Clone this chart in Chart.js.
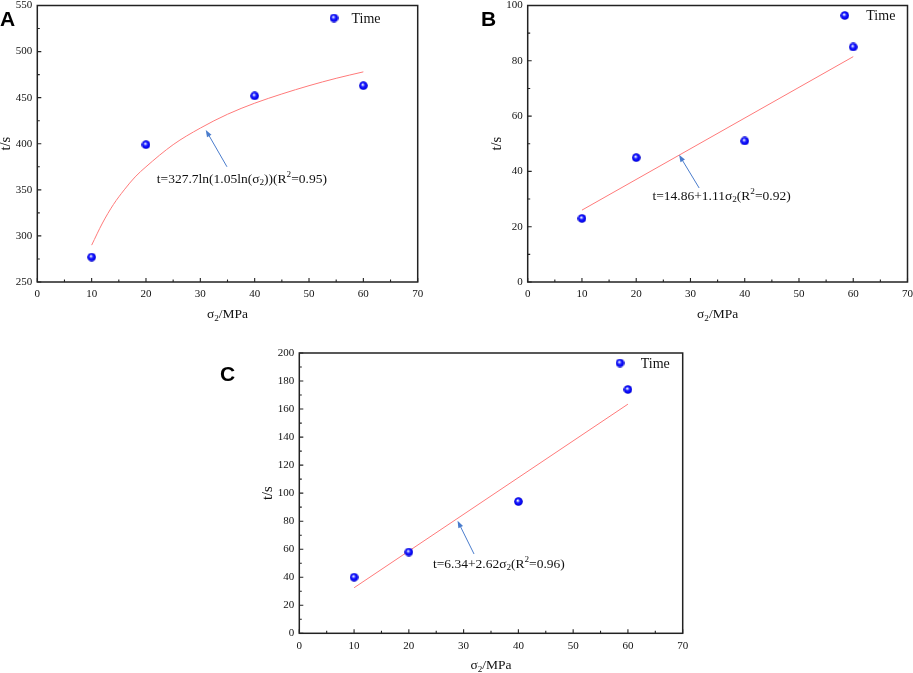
<!DOCTYPE html>
<html>
<head>
<meta charset="utf-8">
<script src="https://cdn.jsdelivr.net/npm/chart.js@4.4.1/dist/chart.umd.min.js"></script>
<style>
html,body{margin:0;padding:0;background:#fff;width:913px;height:673px;overflow:hidden}
#wrap{position:relative;width:913px;height:673px}
#wrap canvas{position:absolute;left:0;top:0}
</style>
</head>
<body>
<div id="wrap">
<canvas id="cA" width="913" height="673"></canvas>
<canvas id="cB" width="913" height="673"></canvas>
<canvas id="cC" width="913" height="673"></canvas>
</div>
<script>
// ---------- DATA ----------
const sigmaLevels = [10, 20, 40, 60];          // σ2 / MPa
const timeA = [277, 399, 452, 463];            // t/s, panel A
const timeB = [23, 45, 51, 85];                // t/s, panel B
const timeC = [40, 58, 94, 174];               // t/s, panel C

// fitted curves
const fitXA = [10, 12, 14, 16, 18, 20, 25, 30, 35, 40, 45, 50, 55, 60];
const fitYA = [290, 314, 334, 350, 364, 375, 399, 417, 432, 444, 454, 463, 471, 478];
const fitXB = [10, 60];
const fitYB = [26, 81.5];
const fitXC = [10, 60];
const fitYC = [32.5, 163.5];

// tick labels
const xTickVals = [0, 10, 20, 30, 40, 50, 60, 70];
const yTickValsA = [250, 300, 350, 400, 450, 500, 550];
const yTickValsB = [0, 20, 40, 60, 80, 100];
const yTickValsC = [0, 20, 40, 60, 80, 100, 120, 140, 160, 180, 200];

// texts
const seriesName = 'Time';
const xTitleSegs = [{t: 'σ'}, {t: '2', sub: true}, {t: '/MPa'}];
const yTitle = 't/s';
const eqA = [{t: 't=327.7ln(1.05ln(σ'}, {t: '2', sub: true}, {t: '))(R'}, {t: '2', sup: true}, {t: '=0.95)'}];
const eqB = [{t: 't=14.86+1.11σ'}, {t: '2', sub: true}, {t: '(R'}, {t: '2', sup: true}, {t: '=0.92)'}];
const eqC = [{t: 't=6.34+2.62σ'}, {t: '2', sub: true}, {t: '(R'}, {t: '2', sup: true}, {t: '=0.96)'}];

// ---------- STYLE / HELPERS ----------
const SERIF = '"Liberation Serif", "Times New Roman", Times, serif';
const SANS = '"Liberation Sans", Arial, Helvetica, sans-serif';
const FRAME = '#222222';
const SPHERE = 9;

function makeSphere() {
  const dpr = window.devicePixelRatio || 1;
  const c = document.createElement('canvas');
  c.width = SPHERE * dpr; c.height = SPHERE * dpr;
  const g = c.getContext('2d');
  g.scale(dpr, dpr);
  const grad = g.createRadialGradient(3.7, 3.4, 0.2, 4.5, 4.5, 4.4);
  grad.addColorStop(0, '#ffffff');
  grad.addColorStop(0.18, '#a0acff');
  grad.addColorStop(0.42, '#1c1cff');
  grad.addColorStop(0.85, '#0000ee');
  grad.addColorStop(1, '#0000b0');
  g.fillStyle = grad;
  g.beginPath(); g.arc(4.5, 4.5, 4.3, 0, Math.PI * 2); g.fill();
  if (dpr === 1) return c;
  const d = document.createElement('canvas');
  d.width = SPHERE; d.height = SPHERE;
  d.getContext('2d').drawImage(c, 0, 0, SPHERE, SPHERE);
  return d;
}
const sphereImg = makeSphere();

function drawRich(ctx, segs, x, y, size) {
  let cx = x;
  ctx.textBaseline = 'middle';
  ctx.textAlign = 'left';
  for (const s of segs) {
    const fs = (s.sub || s.sup) ? size * 0.68 : size;
    ctx.font = fs + 'px ' + SERIF;
    const dy = s.sub ? size * 0.28 : (s.sup ? -size * 0.36 : 0);
    ctx.fillText(s.t, cx, y + dy);
    cx += ctx.measureText(s.t).width;
  }
  return cx - x;
}
function richWidth(ctx, segs, size) {
  let w = 0;
  for (const s of segs) {
    const fs = (s.sub || s.sup) ? size * 0.68 : size;
    ctx.font = fs + 'px ' + SERIF;
    w += ctx.measureText(s.t).width;
  }
  return w;
}

function makeDecor(cfg) {
  return {
    id: 'decor' + cfg.letter,
    afterDraw(chart) {
      const ctx = chart.ctx;
      const a = chart.chartArea;
      const xs = chart.scales.x, ys = chart.scales.y;
      ctx.save();
      // frame
      ctx.strokeStyle = FRAME;
      ctx.lineWidth = 1.5;
      ctx.strokeRect(a.left, a.top, a.right - a.left, a.bottom - a.top);
      // inward ticks
      ctx.lineWidth = 1.1;
      ctx.beginPath();
      for (let v = xs.min; v <= xs.max + 1e-9; v += cfg.xMinor) {
        const px = xs.getPixelForValue(v);
        const major = Math.abs(v / cfg.xStep - Math.round(v / cfg.xStep)) < 1e-6;
        const len = major ? 4 : 2.5;
        ctx.moveTo(px, a.bottom); ctx.lineTo(px, a.bottom - len);
      }
      for (let v = ys.min; v <= ys.max + 1e-9; v += cfg.yMinor) {
        const py = ys.getPixelForValue(v);
        const major = Math.abs(v / cfg.yStep - Math.round(v / cfg.yStep)) < 1e-6;
        const len = major ? 4 : 2.5;
        ctx.moveTo(a.left, py); ctx.lineTo(a.left + len, py);
      }
      ctx.stroke();

      ctx.fillStyle = '#111';
      // x title
      const tsz = 13.5;
      const w = richWidth(ctx, xTitleSegs, tsz);
      drawRich(ctx, xTitleSegs, (a.left + a.right) / 2 - w / 2, a.bottom + 32.5, tsz);
      // y title
      ctx.save();
      ctx.translate(a.left - 31, (a.top + a.bottom) / 2);
      ctx.rotate(-Math.PI / 2);
      ctx.font = '14.5px ' + SERIF;
      ctx.textAlign = 'center'; ctx.textBaseline = 'middle';
      ctx.fillText(yTitle, 0, 0);
      ctx.restore();

      // legend
      const lx = a.right + cfg.legend.dx, ly = a.top + cfg.legend.dy;
      ctx.drawImage(sphereImg, lx - SPHERE / 2, ly - SPHERE / 2, SPHERE, SPHERE);
      ctx.font = '14px ' + SERIF;
      ctx.textAlign = 'left'; ctx.textBaseline = 'middle';
      ctx.fillText(chart.data.datasets[0].label, lx + cfg.legend.textDx, ly + 1);

      // equation
      drawRich(ctx, cfg.eq, xs.getPixelForValue(cfg.eqAt[0]), ys.getPixelForValue(cfg.eqAt[1]), 13.5);

      // arrow
      const x0 = xs.getPixelForValue(cfg.arrow[0][0]), y0 = ys.getPixelForValue(cfg.arrow[0][1]);
      const x1 = xs.getPixelForValue(cfg.arrow[1][0]), y1 = ys.getPixelForValue(cfg.arrow[1][1]);
      const ang = Math.atan2(y1 - y0, x1 - x0);
      const hl = 7, hw = 2.6;
      ctx.strokeStyle = '#4a7ccc'; ctx.fillStyle = '#4a7ccc';
      ctx.lineWidth = 1;
      ctx.beginPath();
      ctx.moveTo(x0, y0);
      ctx.lineTo(x1 - Math.cos(ang) * hl * 0.8, y1 - Math.sin(ang) * hl * 0.8);
      ctx.stroke();
      ctx.beginPath();
      ctx.moveTo(x1, y1);
      ctx.lineTo(x1 - Math.cos(ang) * hl + Math.sin(ang) * hw, y1 - Math.sin(ang) * hl - Math.cos(ang) * hw);
      ctx.lineTo(x1 - Math.cos(ang) * hl - Math.sin(ang) * hw, y1 - Math.sin(ang) * hl + Math.cos(ang) * hw);
      ctx.closePath(); ctx.fill();

      // panel letter
      ctx.fillStyle = '#000';
      ctx.font = 'bold 21px ' + SANS;
      ctx.textAlign = 'left'; ctx.textBaseline = 'alphabetic';
      ctx.fillText(cfg.letter, cfg.letterPos[0], cfg.letterPos[1]);
      ctx.restore();
    }
  };
}

function makeChart(id, cfg) {
  const YW = 36, XH = 36;
  const pad = {
    left: cfg.area.left - YW,
    top: cfg.area.top,
    right: 913 - cfg.area.right,
    bottom: 673 - cfg.area.bottom - XH
  };
  const tickFont = {family: SERIF, size: 11};
  return new Chart(document.getElementById(id), {
    type: 'scatter',
    data: {
      datasets: [
        {
          label: seriesName,
          data: sigmaLevels.map((x, i) => ({x, y: cfg.ys[i]})),
          pointStyle: sphereImg,
          pointRadius: 4.5,
          order: 0
        },
        {
          label: 'fit',
          type: 'line',
          data: cfg.fitX.map((x, i) => ({x, y: cfg.fitY[i]})),
          borderColor: '#ff7a7a',
          borderWidth: 1,
          pointRadius: 0,
          cubicInterpolationMode: 'monotone',
          fill: false,
          order: 1
        }
      ]
    },
    options: {
      responsive: false,
      animation: false,
      events: [],
      layout: {padding: pad},
      plugins: {legend: {display: false}, tooltip: {enabled: false}},
      scales: {
        x: {
          type: 'linear', min: 0, max: 70,
          grid: {display: false, drawTicks: false},
          border: {display: false},
          afterBuildTicks: s => { s.ticks = xTickVals.map(v => ({value: v})); },
          afterFit: s => { s.height = XH; s.paddingLeft = 0; s.paddingRight = 0; s.paddingTop = 0; s.paddingBottom = 0; },
          ticks: {font: tickFont, color: '#111', padding: 6, maxRotation: 0, autoSkip: false}
        },
        y: {
          type: 'linear', min: cfg.yTicks[0], max: cfg.yTicks[cfg.yTicks.length - 1],
          grid: {display: false, drawTicks: false},
          border: {display: false},
          afterBuildTicks: s => { s.ticks = cfg.yTicks.map(v => ({value: v})); },
          afterFit: s => { s.width = YW; s.paddingLeft = 0; s.paddingRight = 0; s.paddingTop = 0; s.paddingBottom = 0; },
          ticks: {font: tickFont, color: '#111', padding: 5, autoSkip: false}
        }
      }
    },
    plugins: [makeDecor(cfg)]
  });
}

makeChart('cA', {
  letter: 'A', letterPos: [0, 25.5],
  ys: timeA, fitX: fitXA, fitY: fitYA, yTicks: yTickValsA,
  xStep: 10, xMinor: 5, yStep: 50, yMinor: 25,
  area: {left: 37.3, top: 4, right: 417.7, bottom: 282},
  legend: {dx: -83.7, dy: 12.5, textDx: 17.5},
  eq: eqA, eqAt: [22.0, 361.5],
  arrow: [[34.9, 375], [31.0, 415]]
});
makeChart('cB', {
  letter: 'B', letterPos: [481, 25.5],
  ys: timeB, fitX: fitXB, fitY: fitYB, yTicks: yTickValsB,
  xStep: 10, xMinor: 5, yStep: 20, yMinor: 10,
  area: {left: 527.7, top: 4, right: 907.7, bottom: 282},
  legend: {dx: -62.7, dy: 10, textDx: 21.5},
  eq: eqB, eqAt: [23.0, 31.0],
  arrow: [[31.6, 34], [27.9, 46]]
});
makeChart('cC', {
  letter: 'C', letterPos: [220, 380.5],
  ys: timeC, fitX: fitXC, fitY: fitYC, yTicks: yTickValsC,
  xStep: 10, xMinor: 5, yStep: 20, yMinor: 10,
  area: {left: 299.3, top: 353, right: 682.7, bottom: 633.3},
  legend: {dx: -62.7, dy: 10, textDx: 20.7},
  eq: eqC, eqAt: [24.4, 49.4],
  arrow: [[31.9, 56.6], [28.9, 80.3]]
});
</script>
</body>
</html>
